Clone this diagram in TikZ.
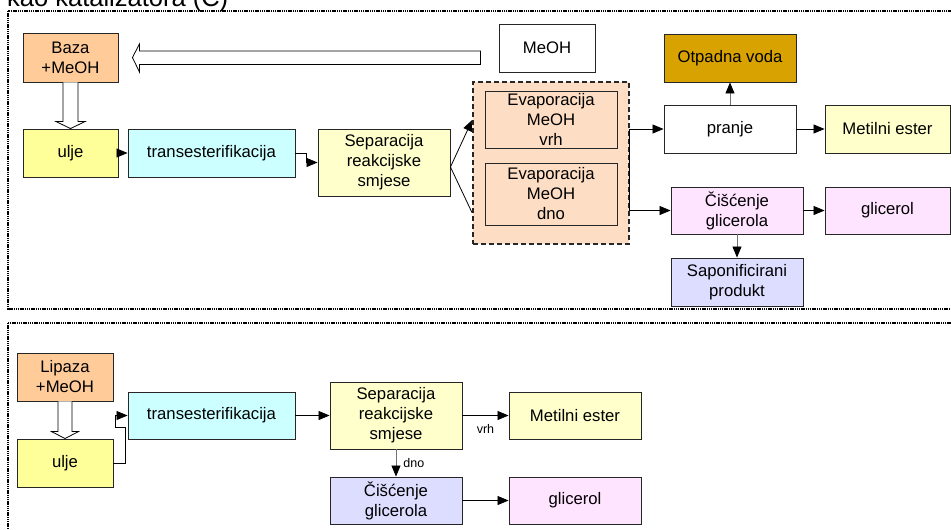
\documentclass[tikz,border=0pt]{standalone}
\usepackage{fontspec}
\setmainfont{Liberation Sans}
\usetikzlibrary{arrows.meta,calc}
\definecolor{peach}{RGB}{255,204,153}
\definecolor{oilyellow}{RGB}{255,255,153}
\definecolor{lightcyan}{RGB}{204,255,255}
\definecolor{paleyellow}{RGB}{255,255,204}
\definecolor{evapfill}{RGB}{253,221,195}
\definecolor{gold}{RGB}{216,163,0}
\definecolor{palepink}{RGB}{255,228,255}
\definecolor{lavender}{RGB}{221,221,255}
\begin{document}
\begin{tikzpicture}[x=1pt,y=-1pt,
  box/.style={draw=black!85,line width=0.9pt,align=center,inner sep=0pt,
    font=\fontsize{16.7}{20}\selectfont},
  arr/.style={line width=0.8pt,-{Triangle[length=11pt,width=9pt]}},
  grayarr/.style={line width=0.8pt,draw=black!55,-{Triangle[length=11pt,width=9pt,fill=black,color=black]}},
  plain/.style={line width=0.8pt},
  hollow/.style={draw=black,line width=0.8pt,fill=white},
  panel/.style={draw=black,line width=1.6pt,dash pattern=on 1.4pt off 0.8pt},
  small/.style={font=\fontsize{12.5}{14}\selectfont,inner sep=0pt}]
\useasboundingbox (0,0) rectangle (951,530);

% title (cut off at the top, as in the reference)
\node[anchor=base west,inner sep=0pt,font=\fontsize{25.5}{28}\selectfont] (title) at (7,6) {kao katalizatora (C)};

% panels
\draw[panel] (8,11) rectangle (975,309);
\draw[panel] (8,323) rectangle (975,560);

% ===== top panel =====
\node[box,fill=peach,minimum width=95pt,minimum height=49pt] (baza) at (70.5,57.5) {Baza\\+MeOH};
\node[box,fill=oilyellow,minimum width=95pt,minimum height=48pt] (ulje1) at (70.5,153) {ulje};
\node[box,fill=lightcyan,minimum width=167pt,minimum height=48pt] (trans1) at (211.5,153) {transesterifikacija};
\node[box,fill=paleyellow,minimum width=132pt,minimum height=67pt] (sep1) at (384,162.5) {Separacija\\reakcijske\\smjese};
\node[box,fill=white,minimum width=96pt,minimum height=48pt] (meoh) at (547,48) {MeOH};
\node[draw=black!85,line width=1.6pt,dash pattern=on 5pt off 3pt,fill=evapfill,
  minimum width=156pt,minimum height=162pt,inner sep=0pt] (evapbox) at (551,163) {};
\node[box,fill=evapfill,minimum width=132pt,minimum height=57pt] (evap1) at (551,119.5) {Evaporacija\\MeOH\\vrh};
\node[box,fill=evapfill,minimum width=132pt,minimum height=62pt] (evap2) at (551,194) {Evaporacija\\MeOH\\dno};
\node[box,fill=gold,minimum width=132pt,minimum height=48pt] (otpad) at (730,58) {Otpadna voda};
\node[box,fill=white,minimum width=132pt,minimum height=48pt] (pranje) at (730,129) {pranje};
\node[box,fill=paleyellow,minimum width=125pt,minimum height=48pt] (metil1) at (887.5,129) {Metilni ester};
\node[box,fill=palepink,minimum width=132pt,minimum height=47pt] (cisc1) at (737,210.5) {Čišćenje\\glicerola};
\node[box,fill=palepink,minimum width=125pt,minimum height=47pt] (glic1) at (887.5,210.5) {glicerol};
\node[box,fill=lavender,minimum width=132pt,minimum height=48pt] (sapon) at (737,282) {Saponificirani\\produkt};

% hollow arrow MeOH -> Baza
\coordinate (rA) at ($(baza.east)+(362,0)$);
\coordinate (tipA) at ($(baza.east)+(14,0)$);
\draw[hollow] ($(rA)+(0,-6.5)$) -- ($(tipA)+(7,-6.5)$) -- ($(tipA)+(7,-13.5)$) -- (tipA)
  -- ($(tipA)+(7,14.5)$) -- ($(tipA)+(7,7)$) -- ($(rA)+(0,7)$) -- cycle;
% hollow arrow Baza -> ulje
\draw[hollow] ($(baza.south)+(-7.5,0)$) -- ($(ulje1.north)+(-7.5,-7)$) -- ($(ulje1.north)+(-14.5,-7)$)
  -- (ulje1.north) -- ($(ulje1.north)+(14.5,-7)$) -- ($(ulje1.north)+(7.5,-7)$) -- ($(baza.south)+(7.5,0)$);

\draw[arr] (ulje1.east) -- (trans1.west);
\draw[arr] (trans1.east) -- ++(11,0) |- (sep1.west);
\draw[arr] ($(sep1.east)+(0,4.5)$) -- ($(evapbox.west)+(0,-43)$);
\draw[plain] ($(sep1.east)+(0,4.5)$) -- ($(evapbox.west)+(0,50)$);
\coordinate (o1) at ($(evapbox.east)+(0,-34)$);
\coordinate (o2) at ($(evapbox.east)+(0,47.5)$);
\draw[plain] (o1) -- (o2);
\draw[arr] (o1) -- (pranje.west);
\draw[arr] (o2) -- (cisc1.west);
\draw[grayarr] (pranje.north) -- (otpad.south);
\draw[arr] (pranje.east) -- (metil1.west);
\draw[arr] (cisc1.east) -- (glic1.west);
\draw[grayarr] (cisc1.south) -- (sapon.north);

% ===== bottom panel =====
\node[box,fill=peach,minimum width=96pt,minimum height=48pt] (lipaza) at (65,377) {Lipaza\\+MeOH};
\node[box,fill=oilyellow,minimum width=96pt,minimum height=48pt] (ulje2) at (65,463) {ulje};
\node[box,fill=lightcyan,minimum width=167pt,minimum height=47pt] (trans2) at (211.5,415.5) {transesterifikacija};
\node[box,fill=paleyellow,minimum width=132pt,minimum height=67pt] (sep2) at (396,415.5) {Separacija\\reakcijske\\smjese};
\node[box,fill=paleyellow,minimum width=132pt,minimum height=47pt] (metil2) at (575,415.5) {Metilni ester};
\node[box,fill=lavender,minimum width=132pt,minimum height=47pt] (cisc2) at (396,500.5) {Čišćenje\\glicerola};
\node[box,fill=palepink,minimum width=132pt,minimum height=47pt] (glic2) at (575,500.5) {glicerol};

\draw[hollow] ($(lipaza.south)+(-7,0)$) -- ($(ulje2.north)+(-7,-7)$) -- ($(ulje2.north)+(-13.5,-7)$)
  -- (ulje2.north) -- ($(ulje2.north)+(13.5,-7)$) -- ($(ulje2.north)+(7,-7)$) -- ($(lipaza.south)+(7,0)$);

\draw[arr] (ulje2.east) -- ++(12,0) -- ++(0,-36) -- ++(-10,0) |- (trans2.west);
\draw[arr] (trans2.east) -- (sep2.west);
\draw[arr] (sep2.east) -- node[small,pos=0.5,below=9pt] (vrh) {vrh} (metil2.west);
\draw[grayarr] (sep2.south) -- node[small,right=7pt] (dno) {dno} (cisc2.north);
\draw[arr] (cisc2.east) -- (glic2.west);
\end{tikzpicture}
\end{document}
